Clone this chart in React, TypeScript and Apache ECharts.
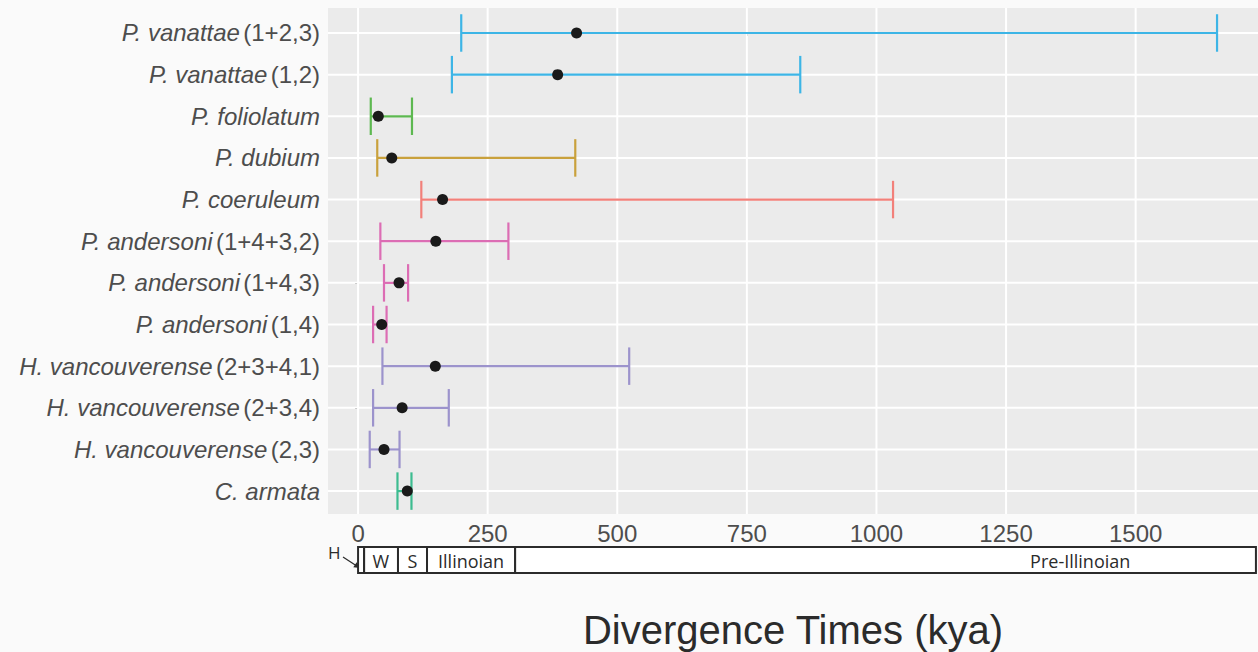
import React, { useEffect, useRef } from "react";
import * as echarts from "echarts";

// ---- data ----
const species = [
  "P. vanattae", "P. vanattae", "P. foliolatum", "P. dubium", "P. coeruleum",
  "P. andersoni", "P. andersoni", "P. andersoni",
  "H. vancouverense", "H. vancouverense", "H. vancouverense", "C. armata",
];
const suffixes = [
  "(1+2,3)", "(1,2)", "", "", "",
  "(1+4+3,2)", "(1+4,3)", "(1,4)",
  "(2+3+4,1)", "(2+3,4)", "(2,3)", "",
];
const lower = [199, 181, 24.5, 37, 122, 43, 50, 29, 47, 29, 22.5, 76];
const estimate = [421.5, 385, 39, 65, 163, 150, 79, 45.6, 149, 85, 50, 95];
const upper = [1657, 853, 104, 419, 1032, 290, 96.5, 55, 523, 175, 80, 103];
const rowColors = [
  "#3DB5E6", "#3DB5E6", "#5DB850", "#C9A13C", "#F2807A",
  "#DC6DB4", "#DC6DB4", "#DC6DB4",
  "#9C93CC", "#9C93CC", "#9C93CC", "#3DBC90",
];
const xTicks = [0, 250, 500, 750, 1000, 1250, 1500];

const epochNames = ["H", "W", "S", "Illinoian", "Pre-Illinoian"];
const epochStart = [0, 11.7, 77, 133, 303];
const epochEnd = [11.7, 77, 133, 303, 1732];
const epochLabelAt = [5.85, 44, 105, 218, 1393];

const X_MIN = -58;
const X_MAX = 1736;

export default function App() {
  const ref = useRef<HTMLDivElement>(null);

  useEffect(() => {
    if (!ref.current) return;
    const chart = echarts.init(ref.current, undefined, { renderer: "svg" });
    const rows = species.map((_, i) => i);

    const option: any = {
      animation: false,
      backgroundColor: "#FAFAFA",
      grid: [
        {
          left: 328, right: 0, top: 8, height: 506, show: true, backgroundColor: "#EBEBEB",
          borderWidth: 0, containLabel: false, outerBoundsMode: "none",
        },
        { left: 328, right: 0, top: 547, height: 26, show: false, containLabel: false, outerBoundsMode: "none" },
      ],
      xAxis: [
        {
          type: "value",
          gridIndex: 0,
          min: X_MIN,
          max: X_MAX,
          splitLine: { show: false },
          axisLine: { show: false },
          axisTick: { show: true, length: 3, lineStyle: { color: "#333", width: 1 }, customValues: xTicks },
          axisLabel: {
            customValues: xTicks,
            formatter: (v: number) => String(Math.round(v)),
            color: "#4D4D4D",
            fontSize: 24,
            fontFamily: "Liberation Sans",
            margin: 7,
          },
          name: "Divergence Times (kya)",
          nameLocation: "middle",
          nameGap: 96,
          nameTextStyle: { color: "#2B2B2B", fontSize: 40, fontFamily: "Liberation Sans" },
        },
        {
          type: "value",
          gridIndex: 1,
          min: X_MIN,
          max: X_MAX,
          show: false,
        },
      ],
      yAxis: [
        {
          type: "value",
          gridIndex: 0,
          min: -0.6,
          max: 11.55,
          inverse: true,
          splitLine: { show: false },
          axisLine: { show: false },
          axisTick: { show: true, length: 3, lineStyle: { color: "#333", width: 1 }, customValues: rows },
          axisLabel: {
            customValues: rows,
            margin: 8,
            formatter: (v: number) => {
              const i = Math.round(v);
              const s = species[i] ?? "";
              const suf = suffixes[i] ?? "";
              return suf ? `{i|${s}} {n|${suf}}` : `{i|${s}}`;
            },
            rich: {
              i: { fontStyle: "italic", fontSize: 24, color: "#4D4D4D", fontFamily: "Liberation Sans" },
              n: { fontSize: 24, color: "#4D4D4D", fontFamily: "Liberation Sans" },
            },
          },
        },
        { type: "value", gridIndex: 1, min: 0, max: 1, show: false },
      ],
      series: [
        {
          type: "custom",
          xAxisIndex: 0,
          yAxisIndex: 0,
          silent: true,
          z: 1,
          data: xTicks.map((t) => [t, 0]),
          encode: { x: 0, y: 1 },
          renderItem: (params: any, api: any) => {
            const p = api.coord([api.value(0), 0]);
            const cs = params.coordSys;
            return {
              type: "line",
              shape: { x1: p[0], y1: cs.y, x2: p[0], y2: cs.y + cs.height },
              style: { stroke: "#FFFFFF", lineWidth: 2 },
            };
          },
        },
        {
          type: "custom",
          xAxisIndex: 0,
          yAxisIndex: 0,
          silent: true,
          z: 1,
          data: rows.map((r) => [0, r]),
          encode: { x: 0, y: 1 },
          renderItem: (params: any, api: any) => {
            const p = api.coord([0, api.value(1)]);
            const cs = params.coordSys;
            return {
              type: "line",
              shape: { x1: cs.x, y1: p[1], x2: cs.x + cs.width, y2: p[1] },
              style: { stroke: "#FFFFFF", lineWidth: 2 },
            };
          },
        },
        {
          type: "custom",
          xAxisIndex: 0,
          yAxisIndex: 0,
          z: 2,
          data: rows.map((r) => [lower[r], upper[r], r]),
          encode: { x: [0, 1], y: 2 },
          renderItem: (params: any, api: any) => {
            const lo = api.coord([api.value(0), api.value(2)]);
            const hi = api.coord([api.value(1), api.value(2)]);
            const h = api.size([0, 0.45])[1];
            const st = { stroke: rowColors[params.dataIndex], lineWidth: 2.2 };
            return {
              type: "group",
              children: [
                { type: "line", shape: { x1: lo[0], y1: lo[1], x2: hi[0], y2: hi[1] }, style: st },
                { type: "line", shape: { x1: lo[0], y1: lo[1] - h, x2: lo[0], y2: lo[1] + h }, style: st },
                { type: "line", shape: { x1: hi[0], y1: hi[1] - h, x2: hi[0], y2: hi[1] + h }, style: st },
              ],
            };
          },
        },
        {
          type: "scatter",
          xAxisIndex: 0,
          yAxisIndex: 0,
          z: 3,
          symbol: "circle",
          symbolSize: 11,
          itemStyle: { color: "#1A1A1A", opacity: 1 },
          data: rows.map((r) => [estimate[r], r]),
        },
        {
          type: "custom",
          xAxisIndex: 1,
          yAxisIndex: 1,
          z: 2,
          silent: true,
          data: epochNames.map((_, i) => [epochStart[i], epochEnd[i], epochLabelAt[i]]),
          encode: { x: [0, 1, 2] },
          renderItem: (params: any, api: any) => {
            const i = params.dataIndex;
            const a = api.coord([api.value(0), 1]);
            const b = api.coord([api.value(1), 0]);
            const c = api.coord([api.value(2), 0.5]);
            const children: any[] = [
              {
                type: "rect",
                shape: { x: a[0], y: a[1], width: b[0] - a[0], height: b[1] - a[1] },
                style: { fill: "#FFFFFF", stroke: "#2B2B2B", lineWidth: 2 },
              },
            ];
            if (i > 0) {
              children.push({
                type: "text",
                x: c[0],
                y: c[1] + 1,
                style: {
                  text: epochNames[i],
                  fill: "#2B2B2B",
                  fontSize: 18,
                  fontFamily: "Open Sans",
                  align: "center",
                  verticalAlign: "middle",
                },
              });
            }
            return { type: "group", children };
          },
        },
      ],
      graphic: [
        {
          type: "text",
          left: 328,
          top: 544,
          style: { text: "H", fill: "#2B2B2B", fontSize: 17, fontFamily: "Open Sans" },
        },
        {
          type: "line",
          shape: { x1: 343, y1: 557, x2: 356, y2: 565.5 },
          style: { stroke: "#2B2B2B", lineWidth: 1.2 },
        },
        {
          type: "polygon",
          shape: { points: [[360, 568], [353.3, 567.2], [356.7, 562.2]] },
          style: { fill: "#2B2B2B" },
        },
      ],
    };

    chart.setOption(option);
    return () => chart.dispose();
  }, []);

  return (
    <div
      ref={ref}
      style={{ position: "fixed", left: 0, top: 0, width: 1258, height: 652 }}
    />
  );
}
